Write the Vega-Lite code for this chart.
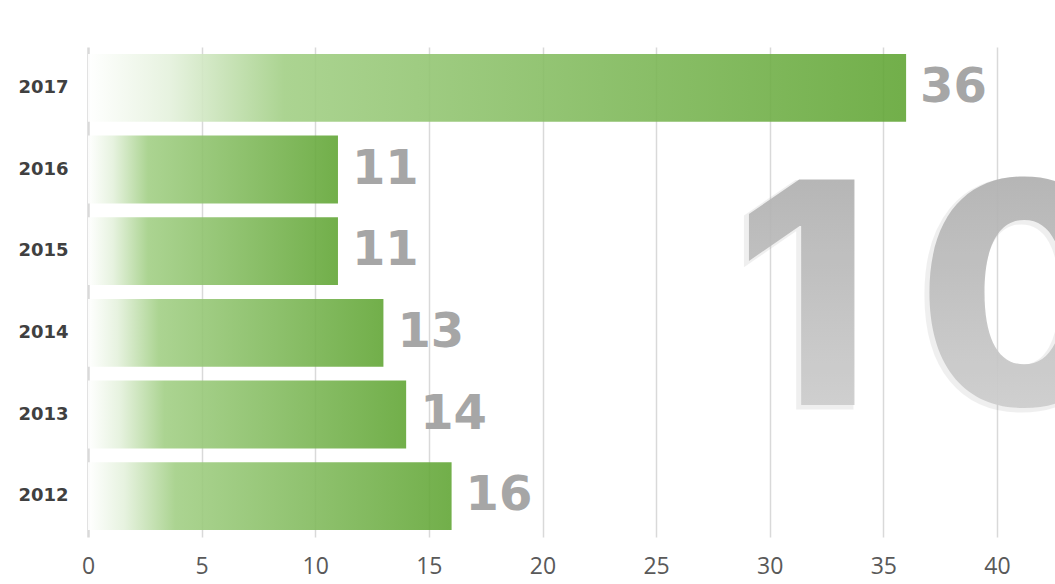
{
  "$schema": "https://vega.github.io/schema/vega-lite/v6.json",
  "width": 909,
  "height": 490,
  "autosize": {"type": "none"},
  "padding": {"left": 88, "right": 58, "top": 47, "bottom": 47},
  "background": "white",
  "config": {"view": {"stroke": null}},
  "datasets": {
    "bars": [
      {"year": "2012", "value": 16},
      {"year": "2013", "value": 14},
      {"year": "2014", "value": 13},
      {"year": "2015", "value": 11},
      {"year": "2016", "value": 11},
      {"year": "2017", "value": 36}
    ],
    "one": [{"label": "1"}],
    "zero": [{"label": "0"}]
  },
  "layer": [
    {
      "data": {"name": "bars"},
      "mark": {"type": "bar", "opacity": 0.9,
        "fill": {"gradient": "linear", "x1": 0, "y1": 0, "x2": 1, "y2": 0,
          "stops": [
            {"offset": 0, "color": "#ffffff"},
            {"offset": 0.1, "color": "#e4f1dc"},
            {"offset": 0.24, "color": "#a2cf85"},
            {"offset": 1, "color": "#62a636"}
          ]}},
      "encoding": {
        "y": {"field": "year", "type": "nominal", "sort": "descending",
          "scale": {"paddingInner": 0.17, "paddingOuter": 0.085},
          "axis": {"title": null, "domain": false, "ticks": false, "labelPadding": 20,
            "labelFont": "DejaVu Sans", "labelFontWeight": "bold", "labelFontSize": 18, "labelColor": "#404040"}},
        "x": {"field": "value", "type": "quantitative",
          "scale": {"domain": [0, 40], "nice": false},
          "axis": {"title": null, "values": [0, 5, 10, 15, 20, 25, 30, 35, 40], "domain": false, "ticks": false,
            "grid": true, "gridColor": "#d9d9d9", "labelFlush": false,
            "gridWidth": {"condition": {"test": "datum.value === 0", "value": 2.5}, "value": 1.5},
            "labelPadding": 18, "labelFont": "Open Sans", "labelFontSize": 23, "labelColor": "#595959"}}
      }
    },
    {
      "data": {"name": "one"},
      "mark": {"type": "text", "align": "right", "baseline": "alphabetic", "font": "Inter", "fontWeight": 800,
        "fontSize": 310, "fill": "#9a9a9a", "opacity": 0.15, "stroke": "#9a9a9a", "strokeWidth": 4, "dx": -3, "dy": -7},
      "encoding": {
        "x": {"datum": 34.5, "type": "quantitative"},
        "y": {"datum": "2013", "type": "nominal"},
        "text": {"field": "label"}
      }
    },
    {
      "data": {"name": "zero"},
      "mark": {"type": "text", "align": "left", "baseline": "alphabetic", "font": "Inter", "fontWeight": 800,
        "fontSize": 310, "fill": "#9a9a9a", "opacity": 0.15, "stroke": "#9a9a9a", "strokeWidth": 4, "dx": -3, "dy": -7},
      "encoding": {
        "x": {"datum": 36.48, "type": "quantitative"},
        "y": {"datum": "2013", "type": "nominal"},
        "text": {"field": "label"}
      }
    },
    {
      "data": {"name": "one"},
      "mark": {"type": "text", "align": "right", "baseline": "alphabetic", "font": "Inter", "fontWeight": 800,
        "fontSize": 310, "opacity": 0.92, "dy": -9.5,
        "fill": {"gradient": "linear", "x1": 0, "y1": 0, "x2": 0, "y2": 1,
          "stops": [{"offset": 0, "color": "#a9a9a9"}, {"offset": 1, "color": "#d6d6d6"}]}},
      "encoding": {
        "x": {"datum": 34.5, "type": "quantitative"},
        "y": {"datum": "2013", "type": "nominal"},
        "text": {"field": "label"}
      }
    },
    {
      "data": {"name": "zero"},
      "mark": {"type": "text", "align": "left", "baseline": "alphabetic", "font": "Inter", "fontWeight": 800,
        "fontSize": 310, "opacity": 0.92, "dy": -9.5,
        "fill": {"gradient": "linear", "x1": 0, "y1": 0, "x2": 0, "y2": 1,
          "stops": [{"offset": 0, "color": "#a9a9a9"}, {"offset": 1, "color": "#d6d6d6"}]}},
      "encoding": {
        "x": {"datum": 36.48, "type": "quantitative"},
        "y": {"datum": "2013", "type": "nominal"},
        "text": {"field": "label"}
      }
    },
    {
      "data": {"name": "bars"},
      "mark": {"type": "text", "align": "left", "baseline": "middle", "dx": 14, "font": "DejaVu Sans", "fontWeight": "bold",
        "fontSize": 48, "color": "#a6a6a6"},
      "encoding": {
        "y": {"field": "year", "type": "nominal", "sort": "descending"},
        "x": {"field": "value", "type": "quantitative"},
        "text": {"field": "value", "type": "quantitative"}
      }
    }
  ]
}
